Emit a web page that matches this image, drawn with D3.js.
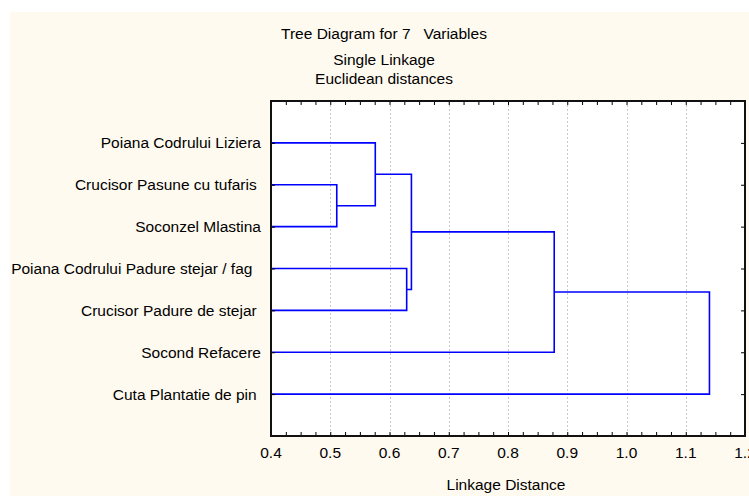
<!DOCTYPE html>
<html>
<head>
<meta charset="utf-8">
<script src="https://cdn.jsdelivr.net/npm/d3@7"></script>
<style>
  html, body { margin: 0; padding: 0; background: #ffffff; }
  svg { display: block; }
  text { font-family: "Liberation Sans", Arial, sans-serif; fill: #000; white-space: pre; }
</style>
</head>
<body>
<svg id="chart" width="749" height="496"></svg>
<script>
// ---- data ----
const titleLines = ["Tree Diagram for 7   Variables", "Single Linkage", "Euclidean distances"];
const leaves = [
  "Poiana Codrului Liziera",
  "Crucisor Pasune cu tufaris ",
  "Soconzel Mlastina",
  "Poiana Codrului Padure stejar / fag  ",
  "Crucisor Padure de stejar ",
  "Socond Refacere",
  "Cuta Plantatie de pin "
];
// linkage: node ids 0..6 are leaves, each merge creates node 7, 8, ...
const mergeA    = [1, 0, 3, 8, 10, 11];
const mergeB    = [2, 7, 4, 9, 5, 6];
const mergeDist = [0.511, 0.576, 0.629, 0.637, 0.878, 1.140];
const xTicks = [0.4, 0.5, 0.6, 0.7, 0.8, 0.9, 1.0, 1.1, 1.2];
const xTitle = "Linkage Distance";

// ---- layout ----
const svg = d3.select("#chart");
const W = 749, H = 496;
const plot = {left: 271, right: 745, top: 101, bottom: 436};
const FS = 15.5;

svg.append("rect").attr("x", 10).attr("y", 12).attr("width", W - 10).attr("height", H - 12)
  .attr("fill", "#fffaf0");
svg.append("rect").attr("x", plot.left).attr("y", plot.top)
  .attr("width", plot.right - plot.left).attr("height", plot.bottom - plot.top)
  .attr("fill", "#ffffff");

const x = d3.scaleLinear().domain([0.4, 1.2]).range([plot.left, plot.right]);
const y = d3.scaleLinear().domain([0, leaves.length + 1]).range([plot.top, plot.bottom]);

// grid
svg.append("g").selectAll("line").data(xTicks.slice(1, -1)).join("line")
  .attr("x1", d => Math.round(x(d)) + 0.5).attr("x2", d => Math.round(x(d)) + 0.5)
  .attr("y1", plot.top).attr("y2", plot.bottom)
  .attr("stroke", "#c8c8c8").attr("stroke-width", 1).attr("stroke-dasharray", "2,2");

// titles
svg.append("g").selectAll("text").data(titleLines).join("text")
  .attr("x", 384).attr("y", (d, i) => [39, 65, 84][i])
  .attr("text-anchor", "middle").attr("font-size", FS).text(d => d);

// dendrogram
const nodes = leaves.map((name, i) => ({x: x(0.4), y: y(i + 1)}));
const links = [];
mergeA.forEach((a, i) => {
  const b = mergeB[i];
  const na = nodes[a], nb = nodes[b];
  const xm = x(mergeDist[i]);
  links.push({a: na, b: nb, xm});
  nodes.push({x: xm, y: (na.y + nb.y) / 2});
});
svg.append("g").selectAll("path").data(links).join("path")
  .attr("d", d => `M${d.a.x},${d.a.y}H${d.xm}V${d.b.y}H${d.b.x}`)
  .attr("fill", "none").attr("stroke", "#0000ff").attr("stroke-width", 1.6);

// leaf labels
svg.append("g").selectAll("text").data(leaves).join("text")
  .attr("x", 261).attr("y", (d, i) => y(i + 1) + 5.5)
  .attr("text-anchor", "end").attr("font-size", FS).text(d => d);

// axes (ticks inward)
const minorTicks = d3.range(0, 33).map(i => 0.4 + i * 0.025);
const bottomAxis = d3.axisBottom(x).tickValues(minorTicks).tickSize(-4).tickFormat("");
svg.append("g").attr("transform", `translate(0,${plot.bottom})`).call(bottomAxis)
  .call(g => g.select(".domain").remove())
  .call(g => g.selectAll("line").attr("stroke", "#000"));
const topAxis = d3.axisTop(x).tickValues(minorTicks).tickSize(-4).tickFormat("");
svg.append("g").attr("transform", `translate(0,${plot.top})`).call(topAxis)
  .call(g => g.select(".domain").remove())
  .call(g => g.selectAll("line").attr("stroke", "#000"));
const leafPos = leaves.map((d, i) => i + 1);
svg.append("g").attr("transform", `translate(${plot.left},0)`)
  .call(d3.axisLeft(y).tickValues(leafPos).tickSize(-4).tickFormat(""))
  .call(g => g.select(".domain").remove())
  .call(g => g.selectAll("line").attr("stroke", "#000"));
svg.append("g").attr("transform", `translate(${plot.right},0)`)
  .call(d3.axisRight(y).tickValues(leafPos).tickSize(-4).tickFormat(""))
  .call(g => g.select(".domain").remove())
  .call(g => g.selectAll("line").attr("stroke", "#000"));

// tick labels
svg.append("g").selectAll("text").data(xTicks).join("text")
  .attr("x", d => x(d)).attr("y", 458)
  .attr("text-anchor", "middle").attr("font-size", FS)
  .text(d => d3.format(".1f")(d));

svg.append("text").attr("x", 506).attr("y", 490).attr("text-anchor", "middle")
  .attr("font-size", FS).text(xTitle);

// frame
svg.append("rect").attr("x", plot.left).attr("y", plot.top)
  .attr("width", plot.right - plot.left).attr("height", plot.bottom - plot.top)
  .attr("fill", "none").attr("stroke", "#111").attr("stroke-width", 2);
</script>
</body>
</html>
